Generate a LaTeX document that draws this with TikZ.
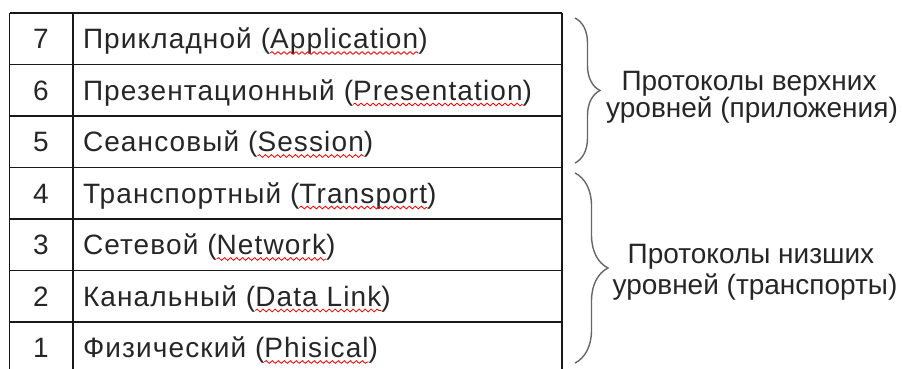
\documentclass[tikz,border=0pt]{standalone}
\usepackage{fontspec}
\setmainfont{Liberation Sans}
\newfontfamily\spacedfont[LetterSpace=4]{Liberation Sans}
\usetikzlibrary{decorations.pathreplacing,decorations.pathmorphing}

\begin{document}
\begin{tikzpicture}[x=1pt,y=-1pt,
  grid/.style={line width=1.6pt,draw=black!90},
  txt/.style={inner sep=0pt,outer sep=0pt,text=black!85,font=\fontsize{28}{32}\selectfont},
  rowtxt/.style={txt,font=\spacedfont\fontsize{28}{32}\selectfont},
  lbl/.style={txt,anchor=base},
  wavy/.style={draw=red,line width=0.8pt,decorate,
    decoration={snake,amplitude=1.4pt,segment length=6pt}},
  bracebar/.style={draw=black!60,line width=1.4pt,decorate},
]
\useasboundingbox (0,0) rectangle (902,369);

% table frame: three verticals open at the bottom, row separators
\draw[grid] (9.5,13) -- (9.5,369);
\draw[grid] (73,13) -- (73,369);
\draw[grid] (562,13) -- (562,369);
\foreach \k in {0,...,6}
  \draw[grid] (9.5,13+51.5*\k) -- (562,13+51.5*\k);

% layer rows: number, Russian name, English name with spell-check squiggle
\foreach \n/\ru/\en [count=\i from 0] in {
    7/Прикладной/Application,
    6/Презентационный/Presentation,
    5/Сеансовый/Session,
    4/Транспортный/Transport,
    3/Сетевой/Network,
    2/Канальный/Data Link,
    1/Физический/Phisical}{
  \pgfmathsetmacro\yb{48.5+51.5*\i}
  \node[lbl] (num\n) at (41,\yb) {\n};
  \node[rowtxt,anchor=base west] (ru\n) at (83,\yb) {\ru{} (};
  \node[rowtxt,anchor=base west] (en\n) at (ru\n.base east) {\en};
  \node[rowtxt,anchor=base west] (cl\n) at (en\n.base east) {)};
  \draw[wavy] ([yshift=-4.5pt]en\n.base west) -- ([yshift=-4.5pt]en\n.base east);
}

% group braces
\draw[bracebar,decoration={brace,amplitude=25pt}] (575,18) -- (575,163);
\draw[bracebar,decoration={brace,amplitude=33pt}] (575,173) -- (575,363);

% group captions
\node[lbl] (up1) at (749,90) {Протоколы верхних};
\node[lbl] (up2) at (752,117) {уровней (приложения)};
\node[lbl] (lo1) at (751,263) {Протоколы низших};
\node[lbl] (lo2) at (755,294) {уровней (транспорты)};
\end{tikzpicture}
\end{document}
